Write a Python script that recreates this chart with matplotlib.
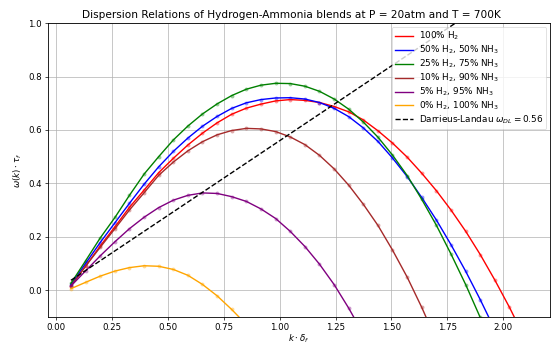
import matplotlib
matplotlib.use("Agg")
import matplotlib.pyplot as plt

# wavenumbers k*delta_f
k = [0.065, 0.131, 0.196, 0.262, 0.327, 0.393, 0.458, 0.524, 0.589, 0.654,
     0.720, 0.785, 0.851, 0.916, 0.982, 1.047, 1.113, 1.178, 1.244, 1.309,
     1.374, 1.440, 1.505, 1.571, 1.636, 1.702, 1.767, 1.833, 1.898, 1.963,
     2.029, 2.094]

h2_100 = [0.015, 0.090, 0.165, 0.237, 0.310, 0.375, 0.440, 0.494, 0.544, 0.588,
          0.627, 0.659, 0.682, 0.697, 0.709, 0.714, 0.711, 0.703, 0.688, 0.668,
          0.638, 0.597, 0.551, 0.498, 0.438, 0.372, 0.300, 0.220, 0.133, 0.038,
          -0.065, -0.175]
h2_50 = [0.020, 0.100, 0.178, 0.252, 0.325, 0.397, 0.462, 0.520, 0.570, 0.614,
         0.651, 0.681, 0.702, 0.714, 0.720, 0.721, 0.716, 0.703, 0.681, 0.650,
         0.608, 0.557, 0.495, 0.425, 0.347, 0.262, 0.170, 0.070, -0.036, -0.148,
         -0.270, -0.400]
h2_25 = [0.025, 0.110, 0.195, 0.272, 0.355, 0.435, 0.500, 0.563, 0.615, 0.660,
         0.698, 0.729, 0.753, 0.768, 0.775, 0.774, 0.764, 0.745, 0.716, 0.678,
         0.630, 0.573, 0.506, 0.429, 0.340, 0.242, 0.135, 0.020, -0.103, -0.235,
         -0.375, -0.520]
h2_10 = [0.015, 0.090, 0.160, 0.230, 0.300, 0.365, 0.430, 0.480, 0.522, 0.556,
         0.582, 0.598, 0.606, 0.604, 0.594, 0.574, 0.545, 0.505, 0.454, 0.393,
         0.322, 0.242, 0.150, 0.048, -0.065, -0.190]
h2_5 = [0.015, 0.072, 0.128, 0.181, 0.230, 0.273, 0.309, 0.337, 0.355, 0.364,
        0.362, 0.350, 0.332, 0.304, 0.268, 0.220, 0.163, 0.097, 0.020, -0.068,
        -0.165]
h2_0 = [0.005, 0.029, 0.052, 0.071, 0.084, 0.091, 0.089, 0.077, 0.055, 0.021,
        -0.022, -0.073, -0.130]

labels = ["100% H$_2$", "50% H$_2$, 50% NH$_3$", "25% H$_2$, 75% NH$_3$",
          "10% H$_2$, 90% NH$_3$", "5% H$_2$, 95% NH$_3$", "0% H$_2$, 100% NH$_3$"]
colors = ["red", "blue", "green", "brown", "purple", "orange"]
series = [h2_100, h2_50, h2_25, h2_10, h2_5, h2_0]

omega_dl = 0.56
dl_k = [0.065, 2.094]
dl_w = [0.0364, 1.1726]

fig = plt.figure(figsize=(5.51, 3.44), dpi=100)
ax = fig.add_axes([0.087, 0.0794, 0.911, 0.8529])

for ys, c, lab in zip(series, colors, labels):
    xs = k[:len(ys)]
    ax.plot(xs, ys, color=c, lw=1.0, label=lab, zorder=3)
    ax.plot(xs, ys, 'o', color=c, ms=2.8, alpha=0.4, mec='none', zorder=2)

ax.plot(dl_k, dl_w, 'k--', lw=1.0, label=r"Darrieus-Landau $\omega_{DL} = 0.56$", zorder=3)

ax.set_xlim(-0.038, 2.21)
ax.set_ylim(-0.1, 1.0)
ax.set_xticks([0.0, 0.25, 0.5, 0.75, 1.0, 1.25, 1.5, 1.75, 2.0])
ax.set_xticklabels(["0.00", "0.25", "0.50", "0.75", "1.00", "1.25", "1.50", "1.75", "2.00"])
ax.set_yticks([0.0, 0.2, 0.4, 0.6, 0.8, 1.0])
ax.tick_params(labelsize=6.2, width=0.5, length=2.5, pad=1.8)
ax.grid(True, color="#b0b0b0", lw=0.5)
for s in ax.spines.values():
    s.set_linewidth(0.6)

ax.set_xlabel(r"$k \cdot \delta_f$", fontsize=6.2, labelpad=0.5)
ax.set_ylabel(r"$\omega(k) \cdot \tau_f$", fontsize=6.2, labelpad=3)
ax.set_title("Dispersion Relations of Hydrogen-Ammonia blends at P = 20atm and T = 700K",
             fontsize=7.6, pad=3.5, x=0.486)
leg = ax.legend(loc="upper right", fontsize=6.4, framealpha=0.8, handlelength=2.0,
                borderpad=0.35, labelspacing=0.16, borderaxespad=0.4, handletextpad=0.7)
leg.get_frame().set_linewidth(0.5)

fig.savefig("out.png", dpi=100)
